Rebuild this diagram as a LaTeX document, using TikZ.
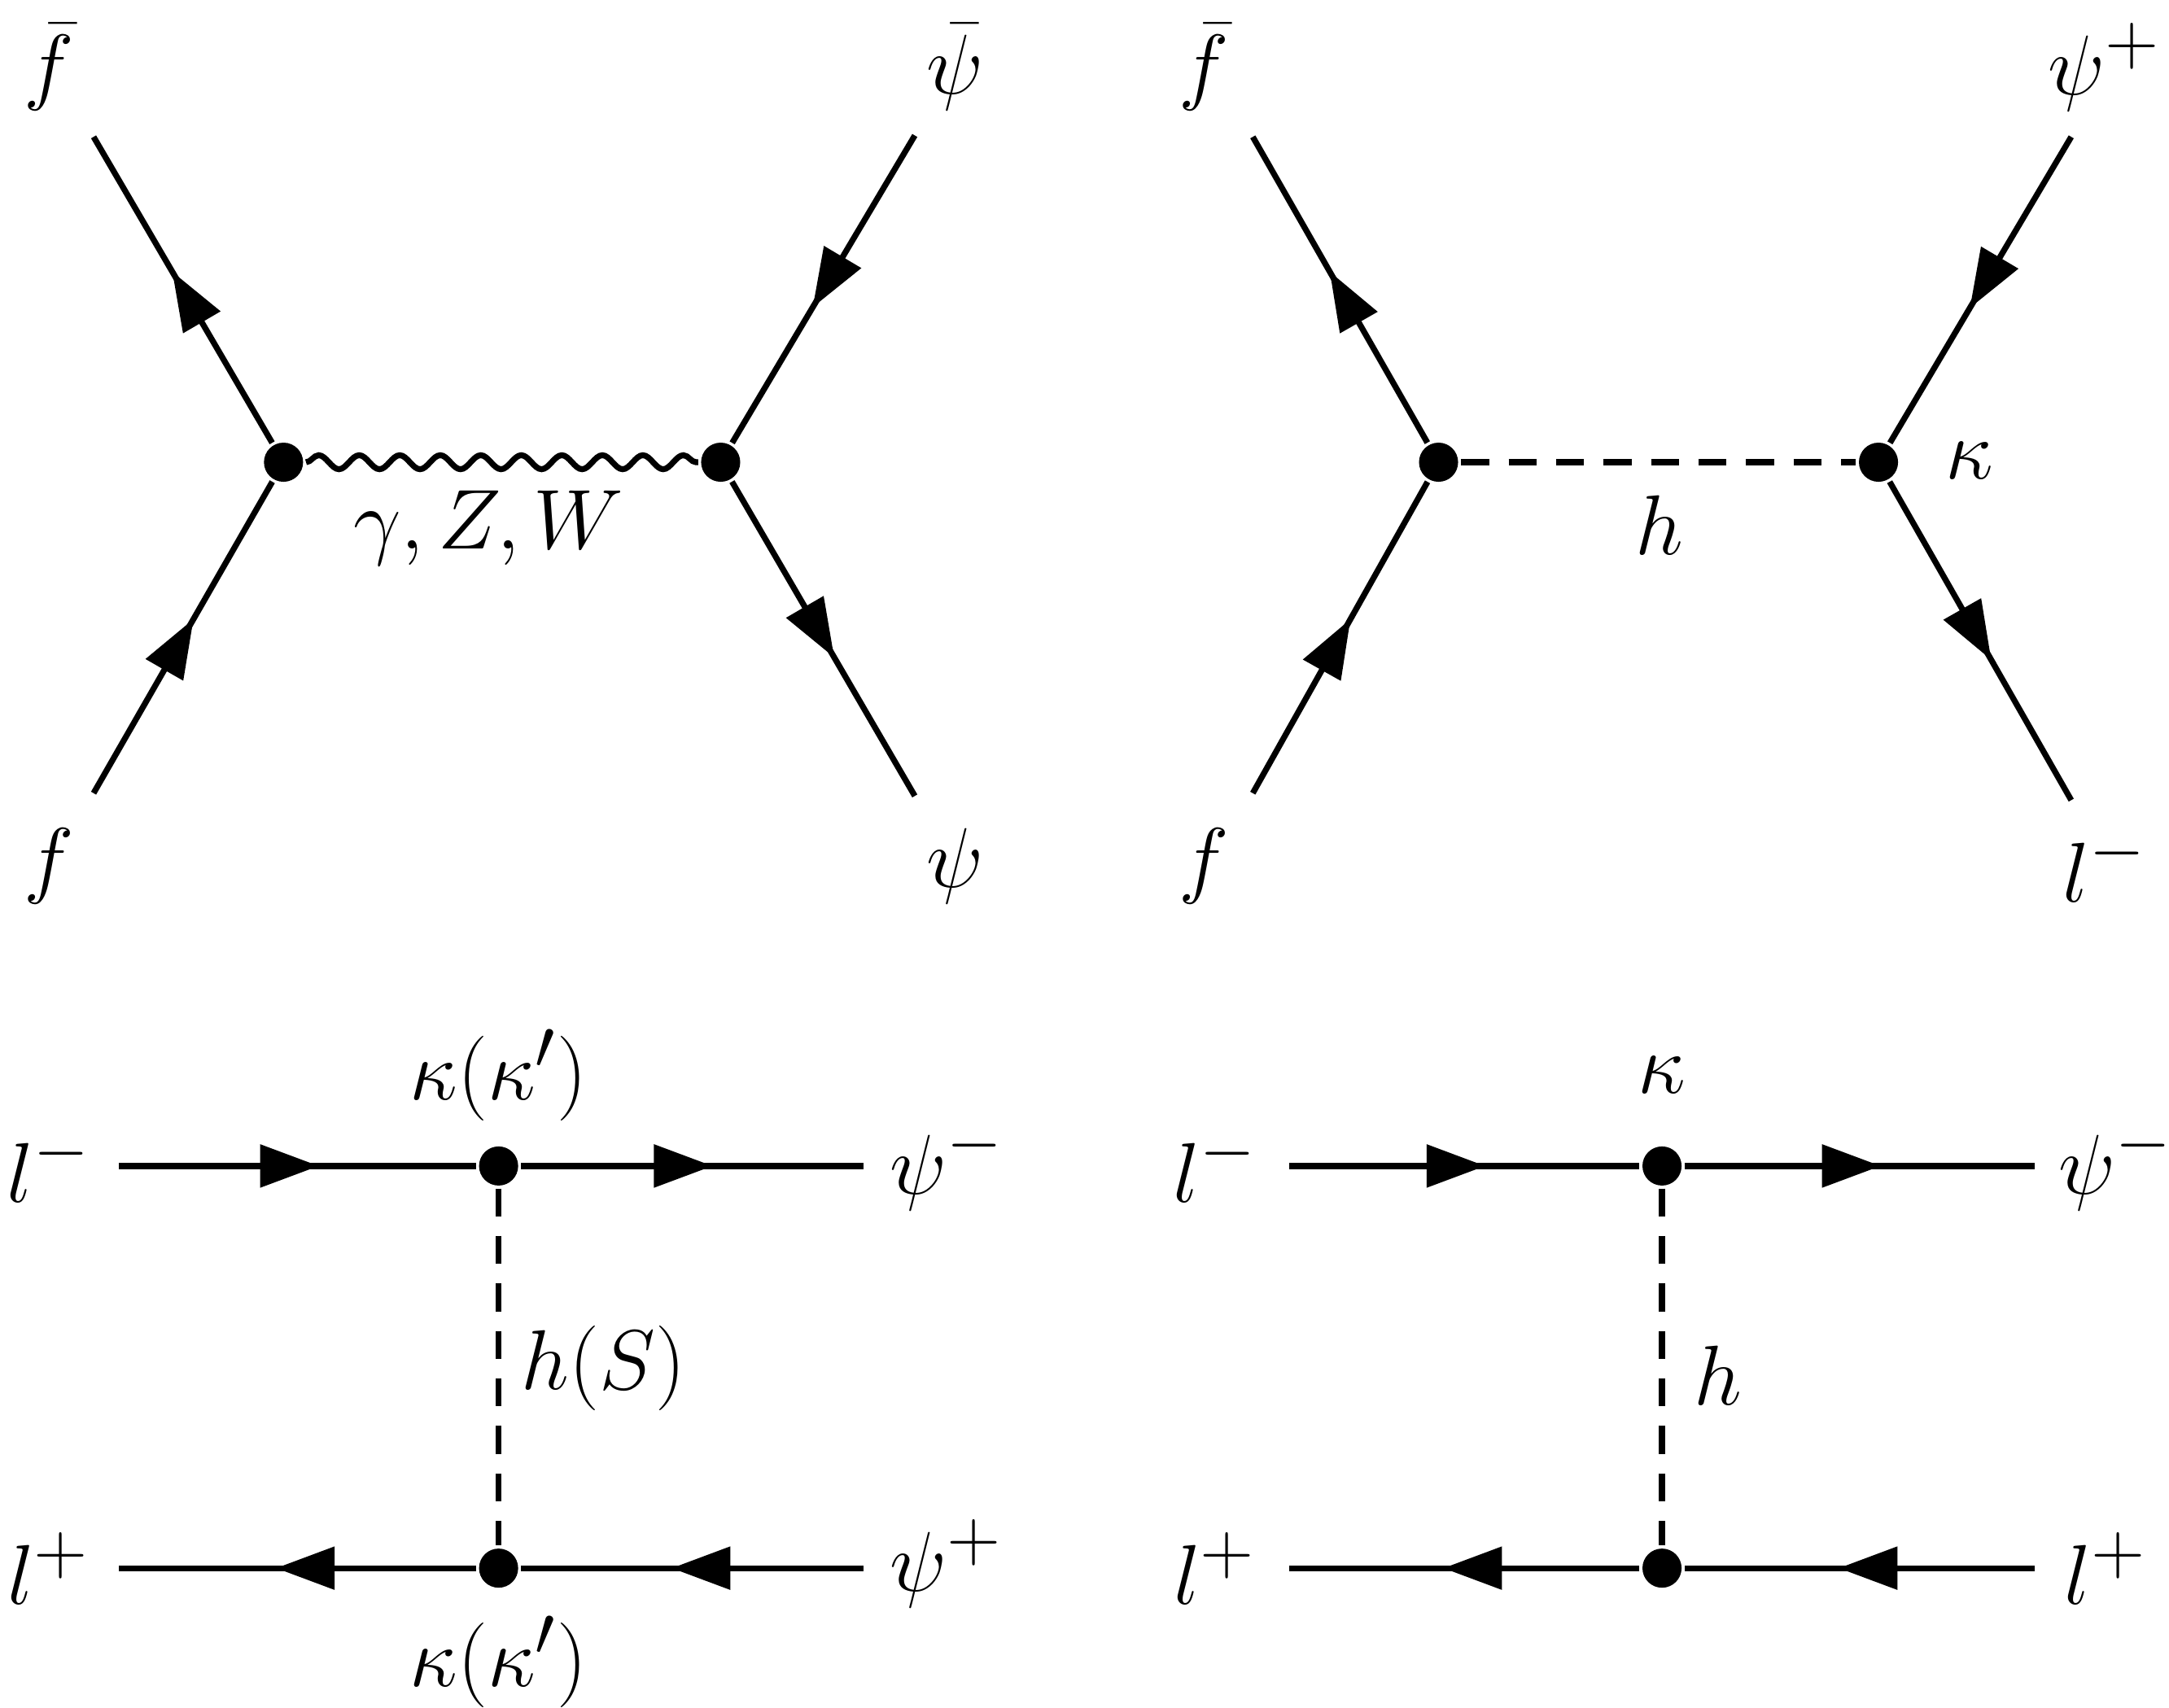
\documentclass[tikz,border=0pt]{standalone}
\usetikzlibrary{decorations.markings,decorations.pathmorphing,arrows.meta}
\begin{document}
\begin{tikzpicture}[x=0.01cm,y=-0.01cm,line width=1.2pt,
  fer/.style={postaction={decorate},decoration={markings,mark=at position 0.56 with {\arrow{Triangle[length=0.42cm,width=0.3cm]}}}},
  vtx/.style={circle,fill,inner sep=0pt,minimum size=0.28cm},
  lab/.style={font=\fontsize{19}{23}\selectfont},
  bos/.style={decorate,decoration={snake,amplitude=0.05cm,segment length=0.29cm}},
  sca/.style={dash pattern=on 0.2cm off 0.14cm}]
\useasboundingbox (0,0) rectangle (1553,1223);
% diagram 1
\node[vtx] (a1) at (203,331) {};
\node[vtx] (b1) at (516,331) {};
\coordinate (f1) at (67,568); \coordinate (fb1) at (67,98);
\coordinate (pb1) at (655,97); \coordinate (p1) at (655,570);
\draw[fer] (f1) -- (a1);
\draw[fer] (a1) -- (fb1);
\draw[fer] (pb1) -- (b1);
\draw[fer] (b1) -- (p1);
\draw[bos] (a1) -- (b1);
\node[lab] (l1) at (350,378) {$\gamma,Z,W$};
\node[lab] (t1) at (35,48) {$\bar f$};
\node[lab] (t2) at (684,48) {$\bar\psi$};
\node[lab] (t3) at (35,620) {$f$};
\node[lab] (t4) at (684,620) {$\psi$};
% diagram 2
\node[vtx] (a2) at (1030,331) {};
\node[vtx] (b2) at (1345,331) {};
\coordinate (f2) at (897,568); \coordinate (fb2) at (897,98);
\coordinate (pb2) at (1483,98); \coordinate (p2) at (1483,573);
\draw[fer] (f2) -- (a2);
\draw[fer] (a2) -- (fb2);
\draw[fer] (pb2) -- (b2);
\draw[fer] (b2) -- (p2);
\draw[sca] (a2) -- (b2);
\node[lab] (h2) at (1188,376) {$h$};
\node[lab] (k2) at (1410,330) {$\kappa$};
\node[lab] (s1) at (862,48) {$\bar f$};
\node[lab] (s2) at (1507,48) {$\psi^+$};
\node[lab] (s3) at (862,620) {$f$};
\node[lab] (s4) at (1507,620) {$l^-$};
% diagram 3
\node[vtx] (c3) at (357,835) {};
\node[vtx] (d3) at (357,1123) {};
\coordinate (tl3) at (85,835); \coordinate (tr3) at (618,835);
\coordinate (bl3) at (85,1123); \coordinate (br3) at (618,1123);
\draw[fer] (tl3) -- (c3);
\draw[fer] (c3) -- (tr3);
\draw[fer] (br3) -- (d3);
\draw[fer] (d3) -- (bl3);
\draw[sca] (c3) -- (d3);
\node[lab] (u1) at (35,835) {$l^-$};
\node[lab] (u2) at (678,835) {$\psi^-$};
\node[lab] (u3) at (35,1123) {$l^+$};
\node[lab] (u4) at (678,1120) {$\psi^+$};
\node[lab] (u5) at (357,770) {$\kappa(\kappa')$};
\node[lab] (u6) at (357,1190) {$\kappa(\kappa')$};
\node[lab] (u7) at (432,980) {$h(S)$};
% diagram 4
\node[vtx] (c4) at (1190,835) {};
\node[vtx] (d4) at (1190,1123) {};
\coordinate (tl4) at (923,835); \coordinate (tr4) at (1457,835);
\coordinate (bl4) at (923,1123); \coordinate (br4) at (1457,1123);
\draw[fer] (tl4) -- (c4);
\draw[fer] (c4) -- (tr4);
\draw[fer] (br4) -- (d4);
\draw[fer] (d4) -- (bl4);
\draw[sca] (c4) -- (d4);
\node[lab] (v1) at (870,835) {$l^-$};
\node[lab] (v2) at (1515,835) {$\psi^-$};
\node[lab] (v3) at (870,1123) {$l^+$};
\node[lab] (v4) at (1508,1123) {$l^+$};
\node[lab] (v5) at (1190,770) {$\kappa$};
\node[lab] (v6) at (1230,985) {$h$};
\end{tikzpicture}
\end{document}
